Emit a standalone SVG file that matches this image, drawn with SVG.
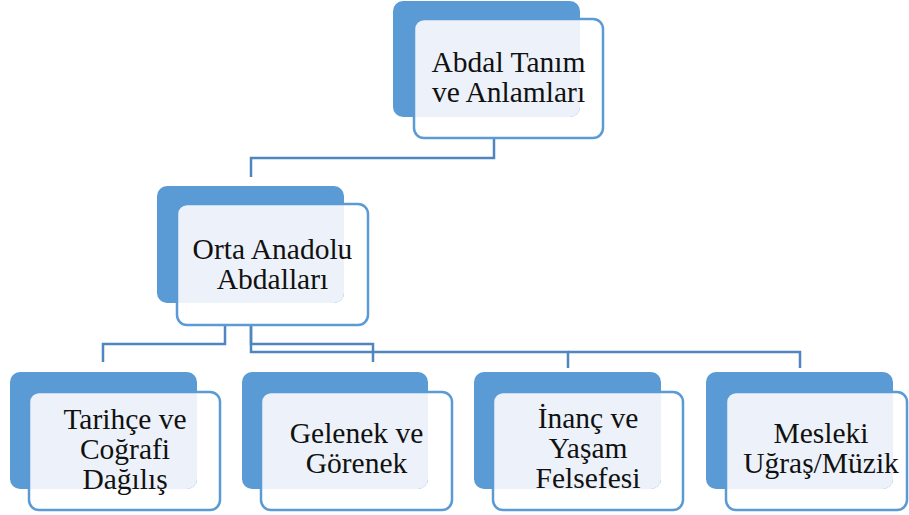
<svg xmlns="http://www.w3.org/2000/svg" width="909" height="515" viewBox="0 0 909 515">
  <style>
    .back { fill: #5B9BD5; }
    .tint { fill: #EDF2FA; }
    .front { fill: none; stroke: #5B9BD5; stroke-width: 2.5; }
    .label { font-family: 'Liberation Serif', 'Times New Roman', serif; font-size: 29.5px; fill: #111; text-anchor: middle; }
    .link { fill: none; stroke: #4F86C0; stroke-width: 2.5; }
  </style>
  <rect width="909" height="515" fill="#ffffff"/>

  <!-- connectors -->
  <g id="connectors">
    <path class="link" d="M494,138 V158 H251 V177"/>
    <path class="link" d="M225,325 V344 H103 V362"/>
    <path class="link" d="M251,325 V344 H373 V362"/>
    <path class="link" d="M251,325 V352 H568 V368"/>
    <path class="link" d="M568,352 H800 V368"/>
  </g>

  <!-- root -->
  <g id="node-abdal">
    <rect class="back" x="393" y="1" width="187" height="116" rx="10"/>
    <path class="tint" d="M414,29 A10,10 0 0 1 424,19 H580 V107 A10,10 0 0 1 570,117 H414 Z"/>
    <rect class="front" x="414" y="19" width="189" height="119" rx="10"/>
    <text class="label" x="508.5" y="72">Abdal Tanım</text>
    <text class="label" x="508.5" y="102">ve Anlamları</text>
  </g>

  <g id="node-orta">
    <rect class="back" x="157" y="186" width="187" height="117" rx="10"/>
    <path class="tint" d="M177,214 A10,10 0 0 1 187,204 H344 V293 A10,10 0 0 1 334,303 H177 Z"/>
    <rect class="front" x="177" y="204" width="191" height="121" rx="10"/>
    <text class="label" x="272.5" y="259">Orta Anadolu</text>
    <text class="label" x="272.5" y="289">Abdalları</text>
  </g>

  <g id="node-tarihce">
    <rect class="back" x="10" y="372" width="187" height="117" rx="10"/>
    <path class="tint" d="M29,402 A10,10 0 0 1 39,392 H197 V479 A10,10 0 0 1 187,489 H29 Z"/>
    <rect class="front" x="29" y="392" width="191" height="118" rx="10"/>
    <text class="label" x="125" y="429">Tarihçe ve</text>
    <text class="label" x="125" y="459">Coğrafi</text>
    <text class="label" x="125" y="489">Dağılış</text>
  </g>

  <g id="node-gelenek">
    <rect class="back" x="242" y="372" width="186" height="117" rx="10"/>
    <path class="tint" d="M261,402 A10,10 0 0 1 271,392 H428 V479 A10,10 0 0 1 418,489 H261 Z"/>
    <rect class="front" x="261" y="392" width="191" height="118" rx="10"/>
    <text class="label" x="356.5" y="443">Gelenek ve</text>
    <text class="label" x="356.5" y="473">Görenek</text>
  </g>

  <g id="node-inanc">
    <rect class="back" x="474" y="372" width="187" height="117" rx="10"/>
    <path class="tint" d="M493,402 A10,10 0 0 1 503,392 H661 V479 A10,10 0 0 1 651,489 H493 Z"/>
    <rect class="front" x="493" y="392" width="190" height="118" rx="10"/>
    <text class="label" x="588" y="428">İnanç ve</text>
    <text class="label" x="588" y="458">Yaşam</text>
    <text class="label" x="588" y="488">Felsefesi</text>
  </g>

  <g id="node-mesleki">
    <rect class="back" x="706" y="372" width="187" height="117" rx="10"/>
    <path class="tint" d="M726,402 A10,10 0 0 1 736,392 H893 V479 A10,10 0 0 1 883,489 H726 Z"/>
    <rect class="front" x="726" y="392" width="181" height="118" rx="10"/>
    <text class="label" x="821" y="443">Mesleki</text>
    <text class="label" x="821" y="473">Uğraş/Müzik</text>
  </g>
</svg>
